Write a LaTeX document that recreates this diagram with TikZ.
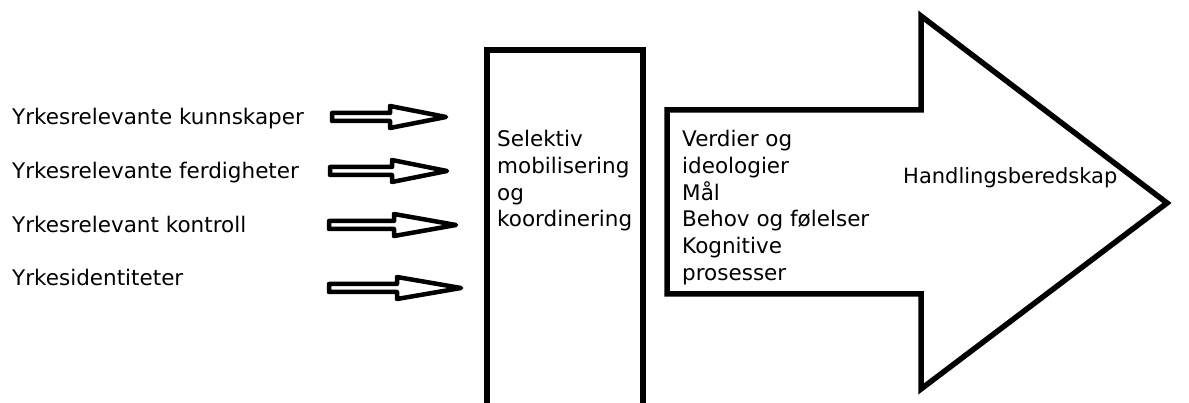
\documentclass[tikz,border=0pt]{standalone}
\usepackage{fontspec}
\setmainfont{DejaVu Sans}
\begin{document}
\begin{tikzpicture}[x=1pt,y=-1pt,
  lbl/.style={anchor=base west,inner sep=0pt,font=\fontsize{21.5}{26.7}\selectfont},
  blk/.style={lbl,align=left},
  smallarrow/.style={draw=black,line width=4.5pt,line join=round,fill=white},
  bigshape/.style={draw=black,line width=5.5pt,line join=miter,fill=white}]
\clip (0,0) rectangle (1189,403);
\fill[white] (0,0) rectangle (1189,403);
% labels
\node[lbl] (k) at (12,125) {Yrkesrelevante kunnskaper};
\node[lbl] (f) at (12,179) {Yrkesrelevante ferdigheter};
\node[lbl] (c) at (12,233) {Yrkesrelevant kontroll};
\node[lbl] (i) at (12,286) {Yrkesidentiteter};
% small block arrows
\draw[smallarrow] (332,113)--(390,113)--(390,106)--(446,117)--(390,128)--(390,121)--(332,121)--cycle;
\draw[smallarrow] (330,167)--(392,167)--(392,160)--(447,171)--(392,182)--(392,175)--(330,175)--cycle;
\draw[smallarrow] (329,221)--(394,221)--(394,214)--(456,225)--(394,236)--(394,229)--(329,229)--cycle;
\draw[smallarrow] (329,284)--(397,284)--(397,277)--(461,288)--(397,299)--(397,292)--(329,292)--cycle;
% middle box
\draw[draw=black,line width=6pt] (487,420)--(487,50)--(643,50)--(643,420);
\node[blk] (sel) at (497,226.8) {Selektiv\\mobilisering\\og\\koordinering};
% big arrow
\draw[bigshape] (667,110)--(921,110)--(921,16)--(1167,203)--(921,389)--(921,294)--(667,294)--cycle;
\node[blk] (v) at (682,280.2) {Verdier og\\ideologier\\Mål\\Behov og følelser\\Kognitive\\prosesser};
\node[lbl,font=\fontsize{21}{26.7}\selectfont] (h) at (903,183.3) {Handlingsberedskap};
\end{tikzpicture}
\end{document}
